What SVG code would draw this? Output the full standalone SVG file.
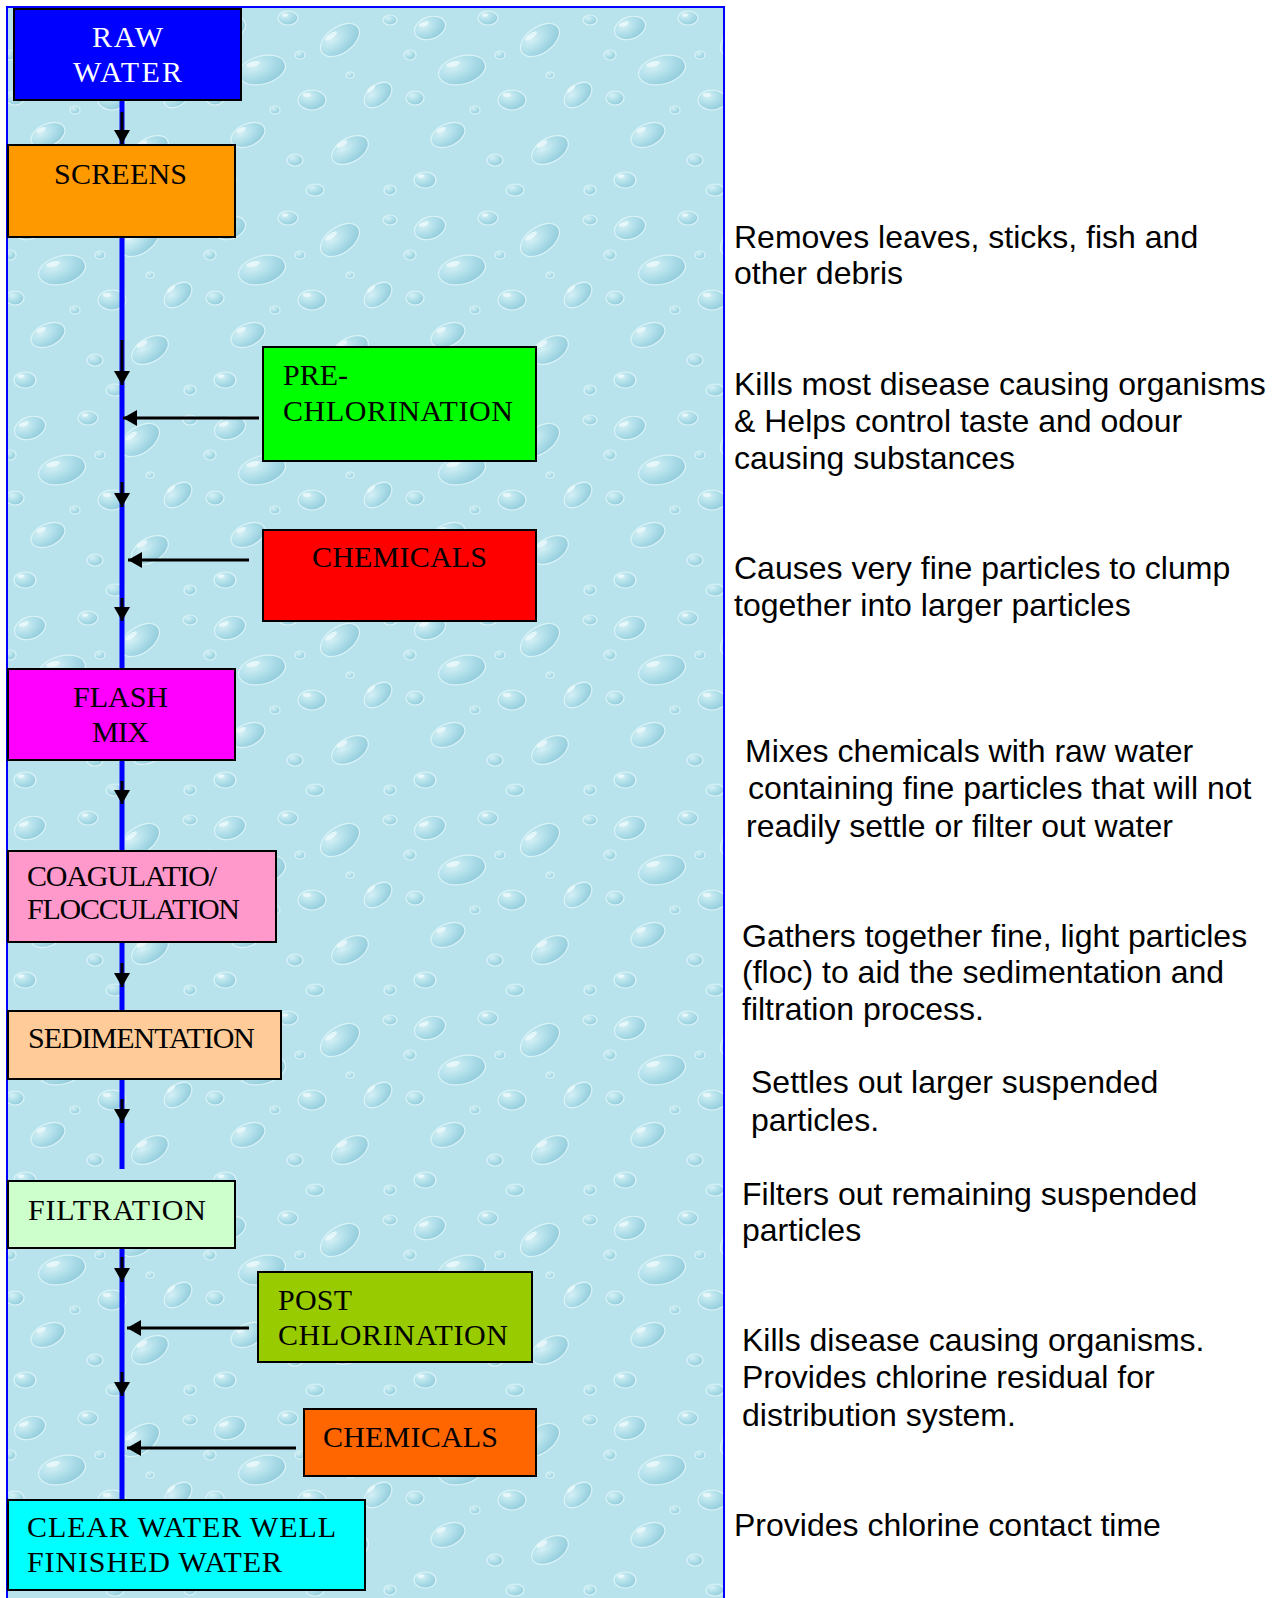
<svg xmlns="http://www.w3.org/2000/svg" width="1278" height="1598" viewBox="0 0 1278 1598">
  <style>
    .box { stroke: #000; stroke-width: 2; }
    .lbl { font-family: "Liberation Serif", "Times New Roman", serif; font-size: 30px; fill: #000; }
    .inv { fill: #fff; }
    .note { font-family: "Liberation Sans", Arial, sans-serif; font-size: 32px; fill: #000; }
    .flow { stroke: #0000FF; stroke-width: 5; fill: none; }
    .arrow { stroke: #000; stroke-width: 3; fill: none; marker-end: url(#head); }
  </style>
  <defs>
    <marker id="head" markerUnits="userSpaceOnUse" markerWidth="15" markerHeight="16" refX="14" refY="8" orient="auto">
      <path d="M0,0 L14,8 L0,16 z" fill="#000"/>
    </marker>
    <radialGradient id="drop" cx="0.35" cy="0.3" r="0.75">
      <stop offset="0" stop-color="#d4f0f5"/>
      <stop offset="0.55" stop-color="#acdde8"/>
      <stop offset="1" stop-color="#92cbdb"/>
    </radialGradient>
    <!-- water-drop texture tile -->
    <pattern id="droplets" patternUnits="userSpaceOnUse" width="200" height="200">
      <rect width="200" height="200" fill="#b8e3ec"/>
      <g fill="url(#drop)" stroke="#dcf4f8" stroke-width="1.2">
        <ellipse cx="30" cy="28" rx="16" ry="11" transform="rotate(-20 30 28)"/>
        <ellipse cx="88" cy="18" rx="10" ry="7"/>
        <ellipse cx="140" cy="40" rx="22" ry="13" transform="rotate(-35 140 40)"/>
        <ellipse cx="62" cy="70" rx="24" ry="14" transform="rotate(-15 62 70)"/>
        <ellipse cx="15" cy="98" rx="9" ry="7"/>
        <ellipse cx="112" cy="100" rx="14" ry="10"/>
        <ellipse cx="178" cy="95" rx="16" ry="10" transform="rotate(-40 178 95)"/>
        <ellipse cx="48" cy="135" rx="18" ry="11" transform="rotate(-25 48 135)"/>
        <ellipse cx="150" cy="150" rx="20" ry="12" transform="rotate(-30 150 150)"/>
        <ellipse cx="95" cy="160" rx="8" ry="6"/>
        <ellipse cx="190" cy="20" rx="7" ry="5"/>
        <ellipse cx="10" cy="55" rx="6" ry="5"/>
        <ellipse cx="25" cy="180" rx="11" ry="8"/>
        <ellipse cx="115" cy="190" rx="9" ry="6"/>
        <ellipse cx="190" cy="190" rx="6" ry="5"/>
        <ellipse cx="100" cy="55" rx="5" ry="4"/>
        <ellipse cx="150" cy="75" rx="4" ry="3"/>
        <ellipse cx="75" cy="110" rx="5" ry="4"/>
      </g>
      <g fill="#eefafc" opacity="0.8">
        <ellipse cx="24" cy="24" rx="5" ry="2.2" transform="rotate(-20 24 24)"/>
        <ellipse cx="85" cy="15" rx="3" ry="1.6"/>
        <ellipse cx="131" cy="36" rx="7" ry="2.5" transform="rotate(-35 131 36)"/>
        <ellipse cx="53" cy="64" rx="7" ry="2.6" transform="rotate(-15 53 64)"/>
        <ellipse cx="107" cy="95" rx="4" ry="2"/>
        <ellipse cx="41" cy="130" rx="5" ry="2.2" transform="rotate(-25 41 130)"/>
        <ellipse cx="142" cy="144" rx="6" ry="2.4" transform="rotate(-30 142 144)"/>
        <ellipse cx="171" cy="89" rx="5" ry="2" transform="rotate(-40 171 89)"/>
        <ellipse cx="21" cy="176" rx="3.5" ry="1.8"/>
      </g>
    </pattern>
  </defs>

  <rect width="1278" height="1598" fill="#fff"/>

  <!-- textured process panel -->
  <rect x="7" y="7" width="717" height="1600" fill="url(#droplets)" stroke="#0000FF" stroke-width="2"/>

  <!-- connectors -->
  <g id="connectors">
    <g id="flow-line">
      <line class="flow" x1="122" y1="100" x2="122" y2="145"/>
      <line class="flow" x1="122" y1="237" x2="122" y2="670"/>
      <line class="flow" x1="122" y1="759" x2="122" y2="851"/>
      <line class="flow" x1="122" y1="941" x2="122" y2="1011"/>
      <line class="flow" x1="122" y1="1078" x2="122" y2="1169"/>
      <line class="flow" x1="122" y1="1247" x2="122" y2="1499"/>
    </g>
    <g id="down-arrows">
      <line class="arrow" x1="122" y1="112" x2="122" y2="144"/>
      <line class="arrow" x1="122" y1="340" x2="122" y2="385"/>
      <line class="arrow" x1="122" y1="482" x2="122" y2="507"/>
      <line class="arrow" x1="122" y1="598" x2="122" y2="621"/>
      <line class="arrow" x1="122" y1="781" x2="122" y2="804"/>
      <line class="arrow" x1="122" y1="963" x2="122" y2="987"/>
      <line class="arrow" x1="122" y1="1099" x2="122" y2="1123"/>
      <line class="arrow" x1="122" y1="1257" x2="122" y2="1282"/>
      <line class="arrow" x1="122" y1="1372" x2="122" y2="1396"/>
    </g>
    <g id="feed-arrows">
      <line class="arrow" x1="259" y1="418" x2="123" y2="418"/>
      <line class="arrow" x1="249" y1="560" x2="128" y2="560"/>
      <line class="arrow" x1="249" y1="1328" x2="127" y2="1328"/>
      <line class="arrow" x1="296" y1="1448" x2="127" y2="1448"/>
    </g>
  </g>

  <!-- process steps -->
  <g id="raw-water">
    <rect class="box" x="14" y="9" width="227" height="91" fill="#0000FF"/>
    <text class="lbl inv" x="92" y="47" textLength="71">RAW</text>
    <text class="lbl inv" x="73" y="82" textLength="109">WATER</text>
  </g>
  <g id="screens">
    <rect class="box" x="8" y="145" width="227" height="92" fill="#FF9900"/>
    <text class="lbl" x="54" y="184" textLength="133">SCREENS</text>
  </g>
  <g id="pre-chlorination">
    <rect class="box" x="263" y="347" width="273" height="114" fill="#00FF00"/>
    <text class="lbl" x="283" y="385" textLength="65">PRE-</text>
    <text class="lbl" x="283" y="421" textLength="230">CHLORINATION</text>
  </g>
  <g id="chemicals-1">
    <rect class="box" x="263" y="530" width="273" height="91" fill="#FF0000"/>
    <text class="lbl" x="312" y="567" textLength="175">CHEMICALS</text>
  </g>
  <g id="flash-mix">
    <rect class="box" x="8" y="669" width="227" height="91" fill="#FF00FF"/>
    <text class="lbl" x="73" y="707" textLength="95">FLASH</text>
    <text class="lbl" x="92" y="742" textLength="57">MIX</text>
  </g>
  <g id="coagulation">
    <rect class="box" x="8" y="851" width="268" height="91" fill="#FF99CC"/>
    <text class="lbl" x="27" y="886" textLength="190">COAGULATIO/</text>
    <text class="lbl" x="27" y="919" textLength="213">FLOCCULATION</text>
  </g>
  <g id="sedimentation">
    <rect class="box" x="8" y="1011" width="273" height="68" fill="#FFCC99"/>
    <text class="lbl" x="28" y="1048" textLength="227">SEDIMENTATION</text>
  </g>
  <g id="filtration">
    <rect class="box" x="8" y="1181" width="227" height="67" fill="#CCFFCC"/>
    <text class="lbl" x="28" y="1220" textLength="178">FILTRATION</text>
  </g>
  <g id="post-chlorination">
    <rect class="box" x="258" y="1272" width="274" height="90" fill="#99CC00"/>
    <text class="lbl" x="278" y="1310" textLength="74">POST</text>
    <text class="lbl" x="278" y="1345" textLength="230">CHLORINATION</text>
  </g>
  <g id="chemicals-2">
    <rect class="box" x="304" y="1409" width="232" height="67" fill="#FF6600"/>
    <text class="lbl" x="323" y="1447" textLength="175">CHEMICALS</text>
  </g>
  <g id="clear-water-well">
    <rect class="box" x="8" y="1500" width="357" height="90" fill="#00FFFF"/>
    <text class="lbl" x="27" y="1537" textLength="309">CLEAR WATER WELL</text>
    <text class="lbl" x="27" y="1572" textLength="255">FINISHED WATER</text>
  </g>

  <!-- step descriptions -->
  <g id="notes">
    <text class="note" x="734" y="248">Removes leaves, sticks, fish and</text>
    <text class="note" x="734" y="284">other debris</text>

    <text class="note" x="734" y="395">Kills most disease causing organisms</text>
    <text class="note" x="734" y="432">&amp; Helps control taste and odour</text>
    <text class="note" x="734" y="469">causing substances</text>

    <text class="note" x="734" y="579">Causes very fine particles to clump</text>
    <text class="note" x="734" y="616">together into larger particles</text>

    <text class="note" x="745" y="762">Mixes chemicals with raw water</text>
    <text class="note" x="748" y="799">containing fine particles that will not</text>
    <text class="note" x="746" y="837">readily settle or filter out water</text>

    <text class="note" x="742" y="947">Gathers together fine, light particles</text>
    <text class="note" x="742" y="983">(floc) to aid the sedimentation and</text>
    <text class="note" x="742" y="1020">filtration process.</text>

    <text class="note" x="751" y="1093">Settles out larger suspended</text>
    <text class="note" x="751" y="1131">particles.</text>

    <text class="note" x="742" y="1205">Filters out remaining suspended</text>
    <text class="note" x="742" y="1241">particles</text>

    <text class="note" x="742" y="1351">Kills disease causing organisms.</text>
    <text class="note" x="742" y="1388">Provides chlorine residual for</text>
    <text class="note" x="742" y="1426">distribution system.</text>

    <text class="note" x="734" y="1536">Provides chlorine contact time</text>
  </g>
</svg>
